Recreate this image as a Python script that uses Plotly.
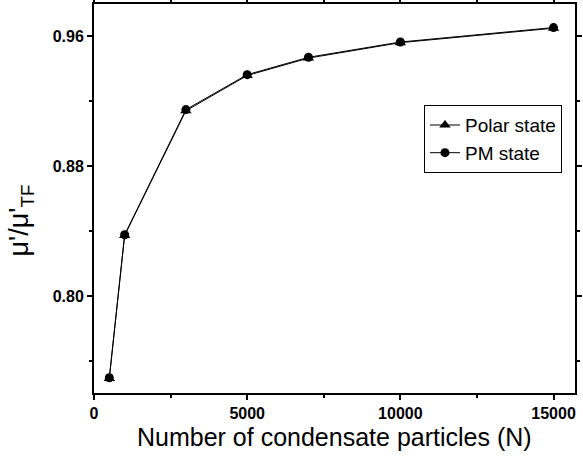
import plotly.graph_objects as go

N = [500, 1000, 3000, 5000, 7000, 10000, 15000]
polar = [0.7493, 0.8372, 0.9140, 0.9357, 0.9464, 0.9559, 0.9648]
pm = [0.7497, 0.8377, 0.9147, 0.9362, 0.9469, 0.9563, 0.9652]
series_names = ["Polar state", "PM state"]
x_title = "Number of condensate particles (N)"
y_title = "μ'/μ'<sub>TF</sub>"

fig = go.Figure()
fig.add_trace(go.Scatter(x=N, y=polar, name=series_names[0], mode="lines+markers",
                         line=dict(color="black", width=1),
                         marker=dict(symbol="triangle-up", size=10, color="black")))
fig.add_trace(go.Scatter(x=N, y=pm, name=series_names[1], mode="lines+markers",
                         line=dict(color="black", width=1),
                         marker=dict(symbol="circle", size=9, color="black")))

axis_common = dict(showline=True, linecolor="black", linewidth=2, mirror="ticks",
                   ticks="outside", ticklen=5, tickwidth=2, tickcolor="black",
                   showgrid=False, zeroline=False, automargin=False)

fig.update_xaxes(range=[0, 15700], tickvals=[0, 5000, 10000, 15000],
                 ticktext=["0", "5000", "10000", "15000"],
                 minor=dict(ticks="outside", ticklen=3, tickwidth=2, tickcolor="black", dtick=2500, tick0=0),
                 tickfont=dict(family="Liberation Sans", size=16, color="black", weight="bold"),
                 **axis_common)
fig.update_yaxes(range=[0.7403, 0.9797], tickvals=[0.80, 0.88, 0.96],
                 ticktext=["0.80", "0.88", "0.96"],
                 minor=dict(ticks="outside", ticklen=3, tickwidth=2, tickcolor="black", dtick=0.04, tick0=0.76),
                 tickfont=dict(family="Liberation Sans", size=16, color="black", weight="bold"),
                 **axis_common)

fig.add_annotation(text=x_title, xref="paper", yref="paper", x=0.5, y=-0.113,
                   xanchor="center", yanchor="middle", showarrow=False,
                   font=dict(family="Liberation Sans", size=25, color="black"))
fig.add_annotation(text=y_title, xref="paper", yref="paper", x=-0.152, y=0.443,
                   xanchor="center", yanchor="middle", showarrow=False, textangle=-90,
                   font=dict(family="Liberation Sans", size=27, color="black"))

fig.update_layout(width=583, height=466, margin=dict(l=94, r=8, t=4, b=73),
                  plot_bgcolor="white", paper_bgcolor="white",
                  legend=dict(x=0.686, y=0.74, xanchor="left", yanchor="top",
                              bordercolor="black", borderwidth=1, bgcolor="white",
                              font=dict(family="Liberation Sans", size=19, color="black"),
                              itemwidth=30, tracegroupgap=0))
fig.write_html("out.html")
